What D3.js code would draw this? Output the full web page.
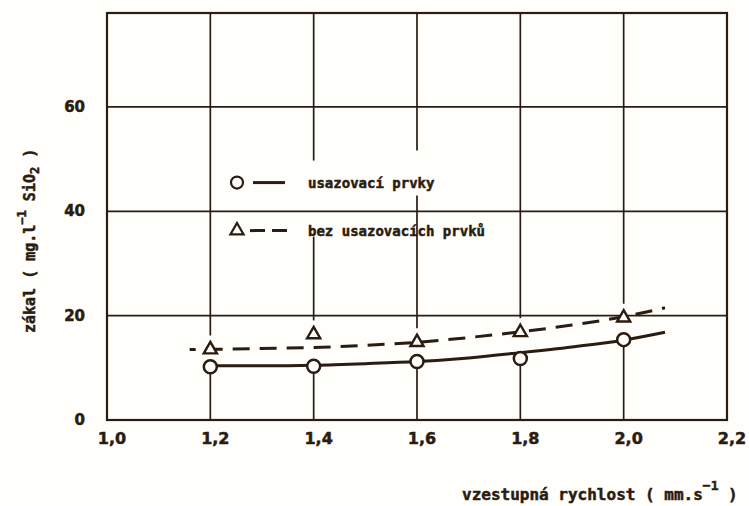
<!DOCTYPE html>
<html>
<head>
<meta charset="utf-8">
<script src="https://cdn.jsdelivr.net/npm/d3@7"></script>
<style>
  html, body { margin: 0; padding: 0; background: #fffefb; }
  svg { display: block; }
  text { font-family: "DejaVu Sans Mono", monospace; font-weight: bold; fill: #2a1c10; stroke: #2a1c10; stroke-width: 0.5; }
  text.tick { font-family: "DejaVu Sans", sans-serif; }
</style>
</head>
<body>
<svg id="chart" width="749" height="506"></svg>
<script>
// ---- data ----
const xTickValues = [1.0, 1.2, 1.4, 1.6, 1.8, 2.0, 2.2];
const xTickLabels = ["1,0", "1,2", "1,4", "1,6", "1,8", "2,0", "2,2"];
const yTickValues = [0, 20, 40, 60];
const yTickLabels = ["0", "20", "40", "60"];

const speed = [1.2, 1.4, 1.6, 1.8, 2.0];
const withElements = [10.2, 10.3, 11.2, 11.8, 15.4];      // circles
const withoutElements = [13.5, 16.4, 14.9, 16.8, 19.6];   // triangles

const fitSpeedSolid = [1.2, 1.3, 1.4, 1.5, 1.6, 1.7, 1.8, 1.9, 2.0, 2.08];
const fitSolid = [10.4, 10.4, 10.5, 10.8, 11.2, 11.9, 12.9, 14.0, 15.3, 16.8];
const fitSpeedDashed = [1.16, 1.3, 1.4, 1.5, 1.6, 1.7, 1.8, 1.9, 2.0, 2.08];
const fitDashed = [13.5, 13.7, 13.9, 14.3, 14.9, 15.8, 16.9, 18.2, 19.8, 21.5];

const legendLabels = ["usazovací prvky", "bez usazovacích prvků"];

// ---- drawing ----
const ink = "#2a1c10";
const svg = d3.select("#chart");
const x = d3.scaleLinear().domain([1.0, 2.2]).range([107, 727]);
const y = d3.scaleLinear().domain([0, 78]).range([420, 13]);
const g = svg.append("g");

// horizontal grid lines
g.selectAll(".hgrid").data(yTickValues.filter(v => v > 0)).join("line")
  .attr("x1", x(1.0)).attr("x2", x(2.2))
  .attr("y1", d => y(d)).attr("y2", d => y(d))
  .attr("stroke", ink).attr("stroke-width", 1.7);

// vertical grid lines, interrupted around the legend and the data points
const legendRow1 = y(45.5), legendRow2 = y(36.3);
function gapsFor(v, i) {
  const gaps = [];
  if (i >= 0) gaps.push([y(withoutElements[i]) - 14, y(withElements[i]) + 6]);
  if (Math.abs(v - 1.4) < 1e-9) gaps.push([legendRow1 - 22, legendRow2 + 6]);
  if (Math.abs(v - 1.6) < 1e-9) gaps.push([legendRow1 - 32, legendRow1 + 13]);
  return gaps;
}
xTickValues.slice(1, -1).forEach(v => {
  const i = speed.indexOf(v);
  const gaps = gapsFor(v, i).sort((a, b) => a[0] - b[0]);
  let start = y(78);
  const segs = [];
  gaps.forEach(gp => { segs.push([start, gp[0]]); start = gp[1]; });
  segs.push([start, y(0)]);
  segs.forEach(s => {
    g.append("line").attr("x1", x(v)).attr("x2", x(v)).attr("y1", s[0]).attr("y2", s[1])
      .attr("stroke", ink).attr("stroke-width", 1.7);
  });
});

// frame
g.append("rect").attr("x", x(1.0)).attr("y", y(78))
  .attr("width", x(2.2) - x(1.0)).attr("height", y(0) - y(78))
  .attr("fill", "none").attr("stroke", ink).attr("stroke-width", 2.2);

// x tick labels
g.selectAll(".xt").data(xTickValues).join("text")
  .attr("class", "tick")
  .attr("x", d => x(d) + 5).attr("y", 444)
  .attr("text-anchor", "middle").attr("font-size", 16)
  .text((d, i) => xTickLabels[i]);

// y tick labels
g.selectAll(".yt").data(yTickValues).join("text")
  .attr("class", "tick")
  .attr("x", 85).attr("y", d => y(d) + 5)
  .attr("text-anchor", "end").attr("font-size", 15)
  .text((d, i) => yTickLabels[i]);

// fitted curves
const lineGen = d3.line().curve(d3.curveMonotoneX);
g.append("path")
  .attr("d", lineGen(fitSpeedSolid.map((s, i) => [x(s), y(fitSolid[i])])))
  .attr("fill", "none").attr("stroke", ink).attr("stroke-width", 3);
g.append("path")
  .attr("d", lineGen(fitSpeedDashed.map((s, i) => [x(s), y(fitDashed[i])])))
  .attr("fill", "none").attr("stroke", ink).attr("stroke-width", 3)
  .attr("stroke-dasharray", "17,10").attr("stroke-dashoffset", 11);

// markers
const tri = d3.symbol().type(d3.symbolTriangle).size(75);
g.selectAll(".tri").data(speed).join("path")
  .attr("d", tri)
  .attr("transform", (d, i) => `translate(${x(d)},${y(withoutElements[i])})`)
  .attr("fill", "#fffefb").attr("stroke", ink).attr("stroke-width", 2.4);
g.selectAll(".circ").data(speed).join("circle")
  .attr("cx", d => x(d)).attr("cy", (d, i) => y(withElements[i])).attr("r", 6.5)
  .attr("fill", "#fffefb").attr("stroke", ink).attr("stroke-width", 2.5);

// legend
const lx = 237;
g.append("circle").attr("cx", lx).attr("cy", legendRow1).attr("r", 6)
  .attr("fill", "none").attr("stroke", ink).attr("stroke-width", 2.2);
g.append("line").attr("x1", lx + 16).attr("x2", lx + 48).attr("y1", legendRow1).attr("y2", legendRow1)
  .attr("stroke", ink).attr("stroke-width", 3);
g.append("path").attr("d", tri).attr("transform", `translate(${lx},${legendRow2})`)
  .attr("fill", "none").attr("stroke", ink).attr("stroke-width", 2.2);
g.append("line").attr("x1", lx + 13).attr("x2", lx + 53).attr("y1", legendRow2).attr("y2", legendRow2)
  .attr("stroke", ink).attr("stroke-width", 3).attr("stroke-dasharray", "15,7");
g.selectAll(".lg").data(legendLabels).join("text")
  .attr("x", 308).attr("y", (d, i) => (i === 0 ? legendRow1 : legendRow2) + 5)
  .attr("font-size", 14).text(d => d);

// x axis title
const xt = g.append("text").attr("x", 462).attr("y", 500).attr("font-size", 16);
xt.append("tspan").text("vzestupná rychlost ( mm.s");
xt.append("tspan").attr("dy", -10).attr("font-size", 13).text("−1");
xt.append("tspan").attr("dy", 10).text(" )");

// y axis title
const yt = g.append("text").attr("transform", "translate(35,333) rotate(-90)").attr("font-size", 15);
yt.append("tspan").text("zákal ( mg.l");
yt.append("tspan").attr("dy", -9).attr("font-size", 12).text("−1");
yt.append("tspan").attr("dy", 9).text(" SiO");
yt.append("tspan").attr("dy", 4).attr("font-size", 12).text("2");
yt.append("tspan").attr("dy", -4).text(" )");
</script>
</body>
</html>
